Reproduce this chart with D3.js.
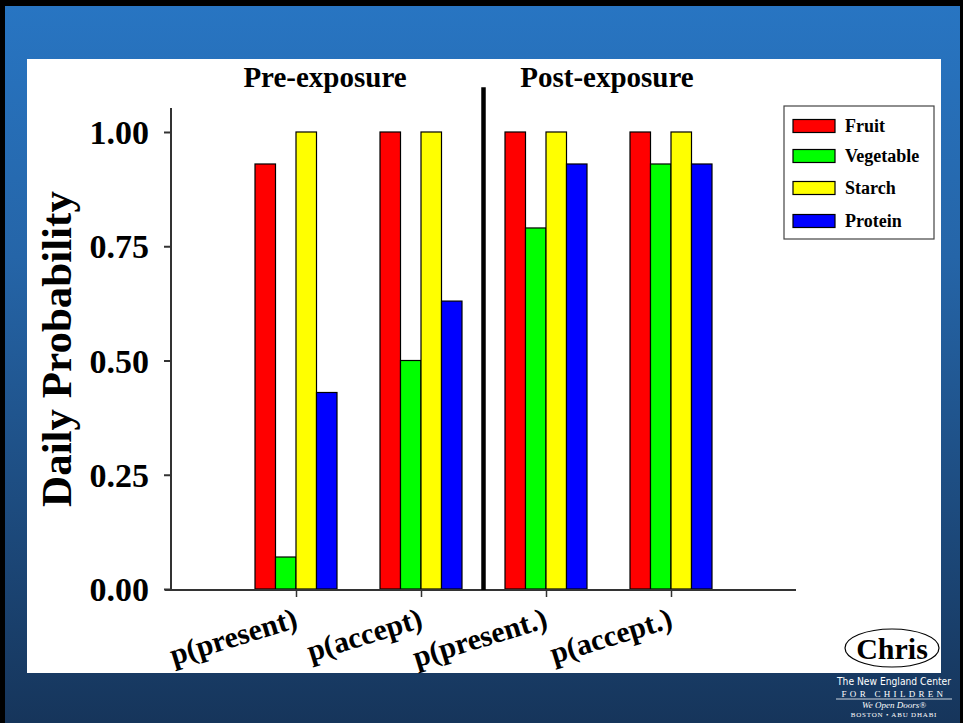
<!DOCTYPE html>
<html><head><meta charset="utf-8">
<script src="https://cdn.jsdelivr.net/npm/d3@7"></script>
<style>html,body{margin:0;padding:0;background:#000;}svg{display:block;}</style>
</head><body>
<script>
const categories = ["p(present)", "p(accept)", "p(present.)", "p(accept.)"];
const series = ["Fruit", "Vegetable", "Starch", "Protein"];
const colors = ["#ff0000", "#00ff00", "#ffff00", "#0000ff"];
const fruit = [0.93, 1.00, 1.00, 1.00];
const vegetable = [0.07, 0.50, 0.79, 0.93];
const starch = [1.00, 1.00, 1.00, 1.00];
const protein = [0.43, 0.63, 0.93, 0.93];
const yTicks = [0, 0.25, 0.5, 0.75, 1.0];
const sectionTitles = ["Pre-exposure", "Post-exposure"];

const values = [fruit, vegetable, starch, protein];
const W = 963, H = 723;
const svg = d3.select("body").append("svg").attr("width", W).attr("height", H);
const defs = svg.append("defs");
const grad = defs.append("linearGradient").attr("id", "bg").attr("x1", 0).attr("y1", 0).attr("x2", 0).attr("y2", 1);
grad.append("stop").attr("offset", "0%").attr("stop-color", "#2875c2");
grad.append("stop").attr("offset", "35%").attr("stop-color", "#2565a8");
grad.append("stop").attr("offset", "100%").attr("stop-color", "#16355b");

svg.append("rect").attr("width", W).attr("height", H).attr("fill", "#000");
svg.append("rect").attr("x", 5).attr("y", 6).attr("width", 955).attr("height", H - 6).attr("fill", "url(#bg)");
svg.append("rect").attr("x", 27).attr("y", 59).attr("width", 914).attr("height", 614).attr("fill", "#fff");

const font = "'Liberation Serif','Times New Roman',serif";

// scales
const x = d3.scaleLinear().domain([0, 5]).range([171, 796]);
const y = d3.scaleLinear().domain([0, 1.0525]).range([589, 108]);
const inner = d3.scaleBand().domain(series).range([-41, 41]).padding(0);

// bars
const g = svg.append("g");
categories.forEach((c, ci) => {
  series.forEach((s, si) => {
    const v = values[si][ci];
    g.append("rect")
      .attr("x", x(ci + 1) + inner(s))
      .attr("y", y(v))
      .attr("width", inner.bandwidth())
      .attr("height", y(0) - y(v))
      .attr("fill", colors[si])
      .attr("stroke", "#000")
      .attr("stroke-width", 1.2);
  });
});

// y axis
const yAxis = d3.axisLeft(y).tickValues(yTicks).tickFormat(d3.format(".2f")).tickSize(7).tickPadding(15);
const ya = svg.append("g").attr("transform", `translate(${x(0)},0)`).call(yAxis);
ya.select(".domain").attr("stroke", "#333").attr("stroke-width", 2).attr("d", `M0,${y(0)}V${y(1.0525)}`);
ya.selectAll(".tick line").attr("stroke", "#333").attr("stroke-width", 2);
ya.selectAll(".tick text").attr("font-family", font).attr("font-weight", "bold").attr("font-size", 34).attr("fill", "#000").attr("dy", "0.34em");

// x axis
const xAxis = d3.axisBottom(x).tickValues([1, 2, 3, 4]).tickFormat(() => "").tickSize(7);
const xa = svg.append("g").attr("transform", `translate(0,${y(0) + 1})`).call(xAxis);
xa.select(".domain").attr("stroke", "#333").attr("stroke-width", 2).attr("d", `M${x(0) - 6},0H${x(5)}`);
xa.selectAll(".tick line").attr("stroke", "#333").attr("stroke-width", 1.5);

// x labels
categories.forEach((c, ci) => {
  svg.append("text")
    .attr("transform", `translate(${x(ci + 1) + 3},${y(0) + 38}) rotate(-17)`)
    .attr("text-anchor", "end")
    .attr("font-family", font).attr("font-weight", "bold").attr("font-size", 30)
    .text(c);
});

// divider
svg.append("line").attr("x1", x(2.5)).attr("x2", x(2.5)).attr("y1", y(1.098)).attr("y2", y(0) + 1)
  .attr("stroke", "#000").attr("stroke-width", 4.5);

// section titles
[[sectionTitles[0], 325], [sectionTitles[1], 607]].forEach(([t, cx]) => {
  svg.append("text").attr("x", cx).attr("y", 87).attr("text-anchor", "middle")
    .attr("font-family", font).attr("font-weight", "bold").attr("font-size", 29).text(t);
});

// y title
svg.append("text").attr("transform", "translate(71,349) rotate(-90)").attr("text-anchor", "middle")
  .attr("font-family", font).attr("font-weight", "bold").attr("font-size", 43).text("Daily Probability");

// legend
const lg = svg.append("g");
lg.append("rect").attr("x", 784).attr("y", 106).attr("width", 150).attr("height", 133)
  .attr("fill", "#fff").attr("stroke", "#444").attr("stroke-width", 1.2);
const legY = [126, 156, 188, 221];
series.forEach((s, si) => {
  lg.append("rect").attr("x", 793).attr("y", legY[si] - 6.5).attr("width", 42).attr("height", 13)
    .attr("fill", colors[si]).attr("stroke", "#000").attr("stroke-width", 1.2);
  lg.append("text").attr("x", 845).attr("y", legY[si] + 6).attr("font-family", font)
    .attr("font-weight", "bold").attr("font-size", 18).text(s);
});

// "Chris" oval
svg.append("ellipse").attr("cx", 892).attr("cy", 648).attr("rx", 47).attr("ry", 19)
  .attr("fill", "#fff").attr("stroke", "#000").attr("stroke-width", 1.2);
svg.append("text").attr("x", 892).attr("y", 659).attr("text-anchor", "middle")
  .attr("font-family", font).attr("font-weight", "bold").attr("font-size", 30).text("Chris");

// logo texts
const logo = svg.append("g").attr("fill", "#fff").attr("text-anchor", "middle");
logo.append("text").attr("x", 894).attr("y", 685).attr("font-family", "'DejaVu Sans Condensed','Liberation Sans Narrow',sans-serif")
  .attr("font-size", 10).attr("textLength", 114).attr("lengthAdjust", "spacingAndGlyphs").text("The New England Center");
logo.append("text").attr("x", 894).attr("y", 697).attr("font-family", font).attr("font-size", 9)
  .attr("letter-spacing", 3.3).text("FOR CHILDREN");
logo.append("line").attr("x1", 836).attr("x2", 952).attr("y1", 699).attr("y2", 699).attr("stroke", "#fff").attr("stroke-width", 0.8);
logo.append("text").attr("x", 894).attr("y", 708).attr("font-family", font).attr("font-style", "italic")
  .attr("font-size", 9).text("We Open Doors\u00ae");
logo.append("text").attr("x", 894).attr("y", 717).attr("font-family", font).attr("font-size", 7)
  .attr("letter-spacing", 0.8).text("BOSTON  \u2022  ABU DHABI");
</script>
</body></html>
